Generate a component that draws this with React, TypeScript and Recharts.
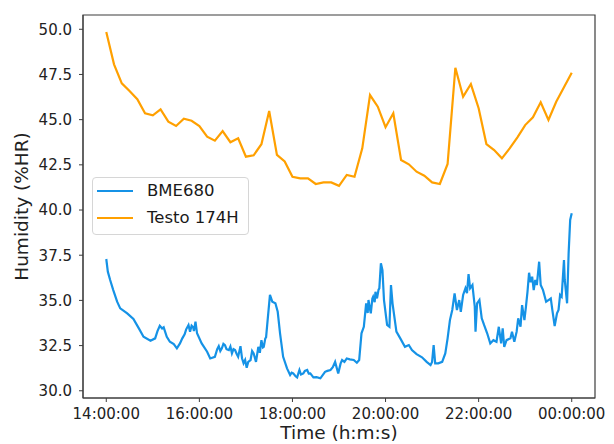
import React from 'react';
import { LineChart, Line, XAxis, YAxis, Legend, ReferenceArea } from 'recharts';

// Testo 174H: one reading every 10 minutes starting at 14:00:00
const testoStepMinutes = 10;
const testoValues = [
  49.85, 48.06, 47.01, 46.59, 46.13, 45.35, 45.24, 45.57, 44.89, 44.65,
  45.05, 44.94, 44.65, 44.06, 43.84, 44.37, 43.75, 43.97, 42.95, 43.03,
  43.64, 45.48, 43.05, 42.69, 41.84, 41.75, 41.75, 41.44, 41.53, 41.53,
  41.34, 41.94, 41.84, 43.41, 46.36, 45.72, 44.58, 45.35, 42.77, 42.53,
  42.12, 41.9, 41.53, 41.44, 42.55, 47.87, 46.27, 46.97, 45.63, 43.65,
  43.32, 42.86, 43.41, 44.02, 44.7, 45.13, 45.96, 44.98, 45.99, 46.79,
  47.6,
];

// BME680: [minutes after 14:00:00, humidity]
const bmeReadings: [number, number][] = [
  [0, 37.29], [2, 36.59], [5, 36.13], [9, 35.57], [14, 34.93], [18, 34.56], [27, 34.28], [35, 33.97],
  [42, 33.45], [48, 32.99], [57, 32.77], [63, 32.9], [66, 33.3], [69, 33.6], [72, 33.45], [74, 33.51],
  [78, 32.99], [82, 32.71], [87, 32.58], [91, 32.35], [95, 32.62], [98, 32.9], [101, 33.12], [103, 33.4],
  [106, 33.64], [108, 33.27], [110, 33.6], [112, 33.51], [113, 33.3], [115, 33.82], [117, 33.18], [123, 32.62],
  [130, 32.16], [134, 31.79], [140, 31.88], [143, 32.3], [145, 32.47], [147, 32.2], [149, 32.35], [151, 32.6],
  [153, 32.53], [155, 32.3], [158, 32.25], [160, 32.45], [162, 32.07], [164, 32.3], [166, 32.25], [168, 32.05],
  [170, 31.88], [173, 32.47], [175, 31.8], [177, 31.52], [179, 31.7], [181, 31.27], [183, 31.6], [186, 31.7],
  [188, 32.2], [190, 32.07], [193, 31.6], [196, 32.43], [198, 32.1], [200, 32.8], [202, 32.4], [203, 32.43],
  [205, 32.9], [206, 32.96], [208, 33.91], [211, 35.3], [214, 34.93], [218, 34.84], [221, 34.37], [224, 33.18],
  [228, 31.88], [233, 31.24], [237, 30.87], [239, 31.0], [241, 30.96], [244, 30.8], [246, 30.74], [249, 31.15],
  [251, 30.9], [254, 30.96], [256, 31.1], [259, 31.15], [261, 30.95], [263, 30.96], [267, 30.74], [271, 30.75],
  [276, 30.69], [282, 31.05], [285, 31.1], [289, 31.15], [292, 31.3], [295, 31.6], [299, 30.96], [302, 31.5],
  [304, 31.7], [307, 31.6], [310, 31.79], [314, 31.74], [319, 31.7], [323, 31.55], [326, 31.7], [329, 33.18],
  [332, 33.54], [335, 34.84], [337, 34.3], [338, 35.02], [340, 34.5], [341, 34.28], [343, 35.1], [344, 35.2],
  [346, 34.9], [347, 35.48], [349, 35.11], [351, 35.6], [352, 35.67], [354, 37.05], [356, 36.68], [358, 35.02],
  [362, 33.64], [365, 33.54], [367, 35.85], [369, 34.84], [374, 33.27], [379, 32.9], [385, 32.43], [390, 32.53],
  [394, 32.25], [400, 32.03], [407, 31.85], [413, 31.6], [418, 31.42], [420, 31.6], [422, 32.53], [424, 31.52],
  [428, 31.52], [433, 31.6], [437, 32.07], [440, 32.9], [443, 33.91], [446, 34.47], [449, 35.39], [452, 34.47],
  [455, 35.02], [457, 34.37], [460, 35.3], [463, 35.67], [465, 35.4], [467, 36.46], [469, 35.67], [472, 35.85],
  [475, 34.65], [476, 33.27], [478, 34.84], [481, 35.02], [484, 34.01], [487, 33.64], [491, 33.18], [495, 32.62],
  [499, 32.8], [503, 32.71], [506, 33.54], [509, 32.62], [511, 33.45], [513, 32.43], [516, 32.8], [521, 32.9],
  [523, 33.27], [526, 32.71], [529, 33.27], [531, 34.01], [534, 33.54], [536, 34.74], [539, 33.91], [541, 34.65],
  [543, 35.48], [545, 36.53], [547, 36.0], [549, 36.31], [551, 35.57], [553, 36.13], [555, 35.85], [558, 37.14],
  [560, 35.85], [563, 35.57], [567, 34.93], [570, 35.02], [573, 35.11], [575, 34.47], [578, 33.58], [581, 34.28],
  [583, 34.47], [585, 35.3], [587, 35.2], [590, 37.23], [591, 36.13], [594, 34.84], [596, 37.6], [598, 39.45],
  [600, 39.82],
];

const xTicks = [0, 120, 240, 360, 480, 600];
const xTickLabels = ['14:00:00', '16:00:00', '18:00:00', '20:00:00', '22:00:00', '00:00:00'];
const yTicks = [30, 32.5, 35, 37.5, 40, 42.5, 45, 47.5, 50];

const X_MIN = -30;
const X_MAX = 630;
const Y_MIN = 29.6;
const Y_MAX = 50.79;

const BLUE = '#1592e6';
const ORANGE = '#ffa000';
const FRAME = '#3c3c3c';
const FONT = '"DejaVu Sans", sans-serif';

const testoData = testoValues.map((v, i) => ({ t: i * testoStepMinutes, v }));
const bmeData = bmeReadings.map(([t, v]) => ({ t, v }));

const legendItems = [
  { name: 'BME680', color: BLUE },
  { name: 'Testo 174H', color: ORANGE },
];

const LegendBox = () => (
  <div
    style={{
      position: 'relative',
      width: 157,
      height: 58,
      border: '1px solid #d6d6d6',
      borderRadius: 4,
      background: 'rgba(255,255,255,0.85)',
      boxSizing: 'border-box',
      fontFamily: FONT,
      fontSize: 16.5,
      color: '#1a1a1a',
    }}
  >
    {legendItems.map((it, i) => (
      <React.Fragment key={it.name}>
        <div
          style={{
            position: 'absolute',
            left: 4,
            top: 12 + i * 27,
            width: 36,
            height: 2,
            background: it.color,
          }}
        />
        <div
          style={{
            position: 'absolute',
            left: 54,
            top: 3 + i * 27,
            lineHeight: '20px',
            whiteSpace: 'nowrap',
          }}
        >
          {it.name}
        </div>
      </React.Fragment>
    ))}
  </div>
);

export default function App() {
  return (
    <LineChart width={606} height={436} margin={{ top: 7, right: 19, bottom: 0, left: 0 }}>
      <XAxis
        type="number"
        dataKey="t"
        domain={[X_MIN, X_MAX]}
        ticks={xTicks}
        allowDataOverflow
        tickFormatter={(v: number) => xTickLabels[xTicks.indexOf(v)] ?? ''}
        height={46}
        tickSize={4}
        tickMargin={6}
        stroke={FRAME}
        tick={{ fill: '#222', fontSize: 15, fontFamily: FONT }}
        label={{ value: 'Time (h:m:s)', position: 'insideBottom', offset: 5, style: { fill: '#222', fontSize: 18.5, fontFamily: FONT } }}
      />
      <YAxis
        type="number"
        domain={[Y_MIN, Y_MAX]}
        ticks={yTicks}
        allowDataOverflow
        tickFormatter={(v: number) => v.toFixed(1)}
        width={75}
        tickSize={4}
        tickMargin={7}
        stroke={FRAME}
        tick={{ fill: '#222', fontSize: 15, fontFamily: FONT }}
        label={{ value: 'Humidity (%HR)', angle: -90, position: 'insideLeft', offset: 13.5, style: { textAnchor: 'middle', fill: '#222', fontSize: 18.5, fontFamily: FONT } }}
      />
      <ReferenceArea x1={X_MIN} x2={X_MAX} y1={Y_MIN} y2={Y_MAX} fill="none" stroke={FRAME} strokeWidth={1.2} />
      <Line
        data={bmeData}
        dataKey="v"
        name="BME680"
        stroke={BLUE}
        strokeWidth={2.2}
        dot={false}
        isAnimationActive={false}
      />
      <Line
        data={testoData}
        dataKey="v"
        name="Testo 174H"
        stroke={ORANGE}
        strokeWidth={2.2}
        dot={false}
        isAnimationActive={false}
      />
      <Legend
        layout="horizontal"
        verticalAlign="middle"
        align="center"
        content={() => <LegendBox />}
        wrapperStyle={{ position: 'absolute', left: 84, top: 169, width: 157, height: 58, margin: 0, padding: 0 }}
      />
    </LineChart>
  );
}
